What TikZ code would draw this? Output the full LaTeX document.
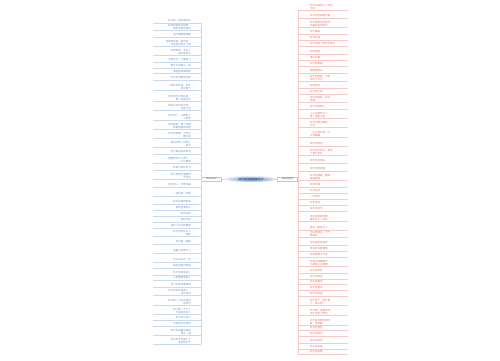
\documentclass[tikz,border=0pt]{standalone}
\usepackage{fontspec}
\setmainfont{Noto Sans CJK SC}
\usetikzlibrary{shapes.geometric}

\definecolor{linksText}{HTML}{7896C2}
\definecolor{linksLinie}{HTML}{CAD9EB}
\definecolor{rechtsText}{HTML}{E3736C}
\definecolor{rechtsLinie}{HTML}{F6C8C6}
\definecolor{mitteText}{HTML}{1F3D6B}
\definecolor{kernInnen}{HTML}{5F8CC6}
\definecolor{kernAussen}{HTML}{E2ECF7}

\begin{document}
\begin{tikzpicture}[x=1pt, y=-1pt,
  blatt/.style={text width=38pt, inner xsep=0pt, inner ysep=0.3pt,
    font=\fontsize{2.5}{2.9}\selectfont},
  lblatt/.style={blatt, anchor=east, align=right, text=linksText},
  rblatt/.style={blatt, anchor=west, align=left, text=rechtsText},
  lline/.style={draw=linksLinie, line width=0.3pt},
  rline/.style={draw=rechtsLinie, line width=0.3pt},
  zweig/.style={draw=gray!45, fill=white, minimum width=20pt, minimum height=4.2pt,
    inner sep=0.3pt, font=\fontsize{2.2}{2.6}\selectfont, text=gray!70!black},
  kern/.style={ellipse, minimum width=52pt, minimum height=6pt, inner sep=0pt,
    inner color=kernInnen, outer color=kernAussen,
    font=\fontsize{2.8}{3.2}\selectfont, text=mitteText}]
  \useasboundingbox (0,0) rectangle (500,360);

  % Mitte
  \node[kern] (mid) at (251,179) {描写秋天的优美句子};
  \node[zweig] (lb) at (211.5,179) {秋天的句子};
  \node[zweig] (rb) at (287.5,179) {秋天的短句};
  \draw[lline] (lb) -- (mid);
  \draw[rline] (mid) -- (rb);

  % linke Seite
  \foreach \y/\txt [count=\r] in {
    21/{秋天是一首优美的诗},
    27/{秋风轻轻吹过田野，\\带来丰收的喜悦},
    35/{落叶飘飘像蝴蝶},
    43/{金黄的稻田一望无际，\\农民伯伯笑开了颜},
    52/{秋雨绵绵，洗去了\\夏日的炎热},
    60/{天高云淡，大雁南飞},
    66/{枫叶红得像火一样},
    72/{果园里硕果累累},
    78/{秋天的早晨很凉爽},
    87/{一阵秋风吹来，树叶\\纷纷落下},
    98/{秋天的天空特别蓝，\\像一块蓝宝石},
    107/{菊花在秋风中开放，\\五颜六色},
    117/{秋天来了，山野换上\\了新装},
    126/{桂花飘香，整个校园\\都是香甜的味道},
    135/{秋天的夜晚，月亮又\\圆又亮},
    144/{银杏叶像一把把小\\扇子},
    152/{秋天是收获的季节},
    160/{梧桐树的叶子黄了，\\一片片飘落},
    168/{秋高气爽好时节},
    176/{秋天的阳光温暖而\\不炽热},
    185/{秋色宜人，风景如画},
    194/{一场秋雨一场寒},
    202/{秋天的田野真美},
    208/{果实挂满枝头},
    214/{秋风送爽},
    220/{层林尽染},
    226/{金秋十月丹桂飘香},
    233/{秋天的景色令人\\陶醉},
    242/{秋天是一幅画},
    251/{落霞与孤鹜齐飞},
    260/{秋水共长天一色},
    266/{稻谷金黄沉甸甸},
    273/{秋天悄悄地来了},
    278/{小草慢慢变黄了},
    285/{空气中弥漫着果香},
    292/{秋天的风吹在脸上，\\凉丝丝的},
    302/{秋天是一个五彩缤纷\\的季节},
    311/{柿子像一个个小\\灯笼挂在树上},
    318/{秋天的山坡上},
    324/{芦苇在风中摇曳},
    332/{秋天的湖面平静如\\镜子一般},
    341/{秋天给大地披上了\\金色的外衣}%
  } {
    \node[lblatt] (l\r) at (191,\y) {\txt};
    \draw[lline] (l\r.south west) -- (l\r.south west -| lb.west);
  }
  \draw[lline] (l1.south -| lb.west) -- (l42.south -| lb.west);

  % rechte Seite
  \foreach \y/\txt [count=\r] in {
    7/{秋天的美景让人流连\\忘返},
    16/{秋天的色彩最丰富},
    24/{秋天是思念的季节，\\也是收获的季节},
    32/{秋叶静美},
    38/{秋日私语},
    44/{秋天来到了我们的身边},
    52/{秋风瑟瑟},
    58/{落叶归根},
    64/{秋天的果园},
    71/{硕果满枝头},
    78/{秋天的傍晚，夕阳\\染红了天空},
    86/{秋意渐浓},
    92/{秋天的小雨},
    99/{秋天的树林，五彩\\斑斓},
    107/{秋天的田埂上},
    115/{山上的枫叶红了，\\像一团团火焰},
    124/{秋天的夜空繁星\\点点},
    134/{一片片落叶像一只\\只黄蝴蝶},
    144/{秋天的短句},
    152/{秋天的风吹过，带走\\了夏天的热},
    161/{秋天的云很白},
    169/{秋天的雨很细},
    177/{秋天的清晨，露珠\\晶莹剔透},
    185/{秋收冬藏},
    191/{秋月皎洁},
    197/{一叶知秋},
    203/{秋色连波},
    209/{秋天的诗句},
    218/{停车坐爱枫林晚，\\霜叶红于二月花},
    228/{晴空一鹤排云上},
    234/{空山新雨后，天气\\晚来秋},
    243/{自古逢秋悲寂寥},
    249/{我言秋日胜春朝},
    255/{秋风萧瑟天气凉},
    263/{月落乌啼霜满天，\\江枫渔火对愁眠},
    271/{秋天的声音},
    277/{秋天的味道},
    282/{秋天的脚步},
    288/{秋天的童话},
    294/{秋天的怀抱},
    302/{秋天到了，树叶黄\\了，果子熟了},
    312/{秋天像一位魔术师，\\把大地变了颜色},
    322/{秋天的风轻轻地吹\\着，很舒服},
    328/{秋天的景色},
    334/{秋天的思念},
    341/{秋天的收获},
    347/{秋天的故事},
    352/{秋天的田野}%
  } {
    \node[rblatt] (r\r) at (310,\y) {\txt};
    \draw[rline] (r\r.south west -| rb.east) -- (r\r.south east);
  }
  \draw[rline] (r1.south -| rb.east) -- (r48.south -| rb.east);
\end{tikzpicture}
\end{document}
